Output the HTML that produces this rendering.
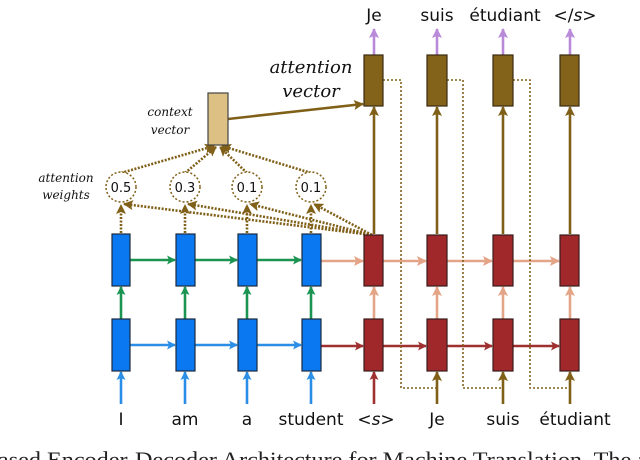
<!DOCTYPE html>
<html><head><style>body{margin:0;background:#fff}svg{display:block}</style></head><body>
<svg width="640" height="460" viewBox="0 0 640 460" xmlns="http://www.w3.org/2000/svg" font-family="DejaVu Sans, Liberation Sans, sans-serif">
<defs>
<marker id="aG" markerWidth="9" markerHeight="9" refX="8" refY="4.5" orient="auto" markerUnits="userSpaceOnUse"><path d="M0,0 L9,4.5 L0,9 L2,4.5z" fill="#1a9450"/></marker>
<marker id="aB" markerWidth="9" markerHeight="9" refX="8" refY="4.5" orient="auto" markerUnits="userSpaceOnUse"><path d="M0,0 L9,4.5 L0,9 L2,4.5z" fill="#2a8ee6"/></marker>
<marker id="aS" markerWidth="10" markerHeight="10" refX="9" refY="5" orient="auto" markerUnits="userSpaceOnUse"><path d="M0,0 L10,5 L0,10 L2,5z" fill="#e4a487"/></marker>
<marker id="aR" markerWidth="9" markerHeight="9" refX="8" refY="4.5" orient="auto" markerUnits="userSpaceOnUse"><path d="M0,0 L9,4.5 L0,9 L2,4.5z" fill="#a03030"/></marker>
<marker id="aN" markerWidth="10" markerHeight="10" refX="9" refY="5" orient="auto" markerUnits="userSpaceOnUse"><path d="M0,0 L10,5 L0,10 L2,5z" fill="#806018"/></marker>
<marker id="aP" markerWidth="10" markerHeight="10" refX="9" refY="5" orient="auto" markerUnits="userSpaceOnUse"><path d="M0,0 L10,5 L0,10 L2,5z" fill="#b88ad8"/></marker>
</defs>
<g stroke-width="2.6" fill="none">
<line x1="130" y1="260" x2="175" y2="260" stroke="#1a9450" marker-end="url(#aG)"/>
<line x1="195" y1="260" x2="237" y2="260" stroke="#1a9450" marker-end="url(#aG)"/>
<line x1="257" y1="260" x2="301" y2="260" stroke="#1a9450" marker-end="url(#aG)"/>
<line x1="130" y1="345" x2="175" y2="345" stroke="#2a8ee6" marker-end="url(#aB)"/>
<line x1="195" y1="345" x2="237" y2="345" stroke="#2a8ee6" marker-end="url(#aB)"/>
<line x1="257" y1="345" x2="301" y2="345" stroke="#2a8ee6" marker-end="url(#aB)"/>
<line x1="121" y1="319" x2="121" y2="287" stroke="#1a9450" marker-end="url(#aG)"/>
<line x1="185" y1="319" x2="185" y2="287" stroke="#1a9450" marker-end="url(#aG)"/>
<line x1="247" y1="319" x2="247" y2="287" stroke="#1a9450" marker-end="url(#aG)"/>
<line x1="311" y1="319" x2="311" y2="287" stroke="#1a9450" marker-end="url(#aG)"/>
<line x1="121" y1="404" x2="121" y2="372" stroke="#2a8ee6" marker-end="url(#aB)"/>
<line x1="185" y1="404" x2="185" y2="372" stroke="#2a8ee6" marker-end="url(#aB)"/>
<line x1="247" y1="404" x2="247" y2="372" stroke="#2a8ee6" marker-end="url(#aB)"/>
<line x1="311" y1="404" x2="311" y2="372" stroke="#2a8ee6" marker-end="url(#aB)"/>
<line x1="321" y1="261" x2="363" y2="261" stroke="#e4a487" marker-end="url(#aS)"/>
<line x1="383" y1="261" x2="426" y2="261" stroke="#e4a487" marker-end="url(#aS)"/>
<line x1="447" y1="261" x2="492" y2="261" stroke="#e4a487" marker-end="url(#aS)"/>
<line x1="513" y1="261" x2="559" y2="261" stroke="#e4a487" marker-end="url(#aS)"/>
<line x1="321" y1="346" x2="363" y2="346" stroke="#a03030" marker-end="url(#aR)"/>
<line x1="383" y1="346" x2="426" y2="346" stroke="#a03030" marker-end="url(#aR)"/>
<line x1="447" y1="346" x2="492" y2="346" stroke="#a03030" marker-end="url(#aR)"/>
<line x1="513" y1="346" x2="559" y2="346" stroke="#a03030" marker-end="url(#aR)"/>
<line x1="374" y1="319" x2="374" y2="287" stroke="#e4a487" marker-end="url(#aS)"/>
<line x1="437" y1="319" x2="437" y2="287" stroke="#e4a487" marker-end="url(#aS)"/>
<line x1="503" y1="319" x2="503" y2="287" stroke="#e4a487" marker-end="url(#aS)"/>
<line x1="570" y1="319" x2="570" y2="287" stroke="#e4a487" marker-end="url(#aS)"/>
<line x1="374" y1="404" x2="374" y2="372" stroke="#a03030" marker-end="url(#aR)"/>
<line x1="437" y1="404" x2="437" y2="372" stroke="#806018" marker-end="url(#aN)"/>
<line x1="503" y1="404" x2="503" y2="372" stroke="#806018" marker-end="url(#aN)"/>
<line x1="570" y1="404" x2="570" y2="372" stroke="#806018" marker-end="url(#aN)"/>
<line x1="374" y1="234" x2="374" y2="107" stroke="#806018" marker-end="url(#aN)"/>
<line x1="437" y1="234" x2="437" y2="107" stroke="#806018" marker-end="url(#aN)"/>
<line x1="503" y1="234" x2="503" y2="107" stroke="#806018" marker-end="url(#aN)"/>
<line x1="570" y1="234" x2="570" y2="107" stroke="#806018" marker-end="url(#aN)"/>
<line x1="374" y1="55" x2="374" y2="29" stroke="#b88ad8" marker-end="url(#aP)"/>
<line x1="437" y1="55" x2="437" y2="29" stroke="#b88ad8" marker-end="url(#aP)"/>
<line x1="503" y1="55" x2="503" y2="29" stroke="#b88ad8" marker-end="url(#aP)"/>
<line x1="570" y1="55" x2="570" y2="29" stroke="#b88ad8" marker-end="url(#aP)"/>
<line x1="228" y1="119" x2="363" y2="104" stroke="#806018" marker-end="url(#aN)"/>
</g>
<g stroke="#806018" stroke-width="1.6" stroke-dasharray="2,2" fill="none">
<path d="M383,80 H401 V388 H437"/>
<path d="M447,80 H463 V388 H503"/>
<path d="M513,80 H530 V388 H570"/>
</g>
<g stroke="#806018" stroke-width="2.6" stroke-dasharray="2,1.5" fill="none">
<line x1="121" y1="233" x2="121" y2="205" marker-end="url(#aN)"/>
<line x1="185" y1="233" x2="185" y2="205" marker-end="url(#aN)"/>
<line x1="247" y1="233" x2="247" y2="205" marker-end="url(#aN)"/>
<line x1="311" y1="233" x2="311" y2="205" marker-end="url(#aN)"/>
<line x1="372" y1="235" x2="124" y2="204" marker-end="url(#aN)"/>
<line x1="372" y1="235" x2="188" y2="204" marker-end="url(#aN)"/>
<line x1="372" y1="235" x2="250" y2="204" marker-end="url(#aN)"/>
<line x1="372" y1="235" x2="314" y2="204" marker-end="url(#aN)"/>
<line x1="121" y1="173" x2="214" y2="146" marker-end="url(#aN)"/>
<line x1="185" y1="173" x2="216" y2="147" marker-end="url(#aN)"/>
<line x1="247" y1="173" x2="220" y2="147" marker-end="url(#aN)"/>
<line x1="311" y1="173" x2="222" y2="146" marker-end="url(#aN)"/>
</g>
<g stroke="#806018" stroke-width="1.5" stroke-dasharray="2,2" fill="#fff">
<ellipse cx="121" cy="187" rx="15" ry="15"/>
<ellipse cx="185" cy="187" rx="15" ry="15"/>
<ellipse cx="247" cy="187" rx="15" ry="15"/>
<ellipse cx="311" cy="187" rx="15" ry="15"/>
</g>
<g font-size="13" text-anchor="middle" fill="#111">
<text x="121" y="192">0.5</text><text x="185" y="192">0.3</text><text x="247" y="192">0.1</text><text x="311" y="192">0.1</text>
</g>
<g stroke="#1a2a40" stroke-width="1.2" fill="#0a78f0">
<rect x="112" y="234" width="18" height="52"/><rect x="176" y="234" width="19" height="52"/><rect x="238" y="234" width="19" height="52"/><rect x="302" y="234" width="19" height="52"/>
<rect x="112" y="319" width="18" height="52"/><rect x="176" y="319" width="19" height="52"/><rect x="238" y="319" width="19" height="52"/><rect x="302" y="319" width="19" height="52"/>
</g>
<g stroke="#3a1a1a" stroke-width="1.2" fill="#a0282a">
<rect x="364" y="235" width="19" height="51"/><rect x="427" y="235" width="20" height="51"/><rect x="493" y="235" width="20" height="51"/><rect x="560" y="235" width="19" height="51"/>
<rect x="364" y="319" width="19" height="52"/><rect x="427" y="319" width="20" height="52"/><rect x="493" y="319" width="20" height="52"/><rect x="560" y="319" width="19" height="52"/>
</g>
<g stroke="#3a2a10" stroke-width="1.2" fill="#83621a">
<rect x="364" y="55" width="19" height="51"/><rect x="427" y="55" width="20" height="51"/><rect x="493" y="55" width="20" height="51"/><rect x="560" y="55" width="19" height="51"/>
</g>
<rect x="208" y="93" width="20" height="52" fill="#dcc084" stroke="#444" stroke-width="1.2"/>
<g font-family="DejaVu Serif, Liberation Serif, serif" font-style="italic" fill="#111" text-anchor="middle">
<text x="311" y="73" font-size="18">attention</text>
<text x="311" y="97" font-size="18">vector</text>
<text x="170" y="116" font-size="12">context</text>
<text x="170" y="134" font-size="12">vector</text>
<text x="66" y="182" font-size="12">attention</text>
<text x="66" y="199" font-size="12">weights</text>
</g>
<g font-size="17" fill="#111" text-anchor="middle">
<text x="374" y="21">Je</text><text x="437" y="21">suis</text><text x="505" y="21">étudiant</text><text x="575" y="21">&lt;/<tspan font-style="italic">s</tspan>&gt;</text>
<text x="121" y="425">I</text><text x="185" y="425">am</text><text x="247" y="425">a</text><text x="311" y="425">student</text>
<text x="376" y="425">&lt;<tspan font-style="italic">s</tspan>&gt;</text><text x="437" y="425">Je</text><text x="503" y="425">suis</text><text x="575" y="425">étudiant</text>
</g>
<text x="-2" y="467" font-family="Liberation Serif, serif" font-size="22" fill="#222" textLength="650" lengthAdjust="spacingAndGlyphs">ased Encoder-Decoder Architecture for Machine Translation. The a</text>
</svg>
</body></html>
